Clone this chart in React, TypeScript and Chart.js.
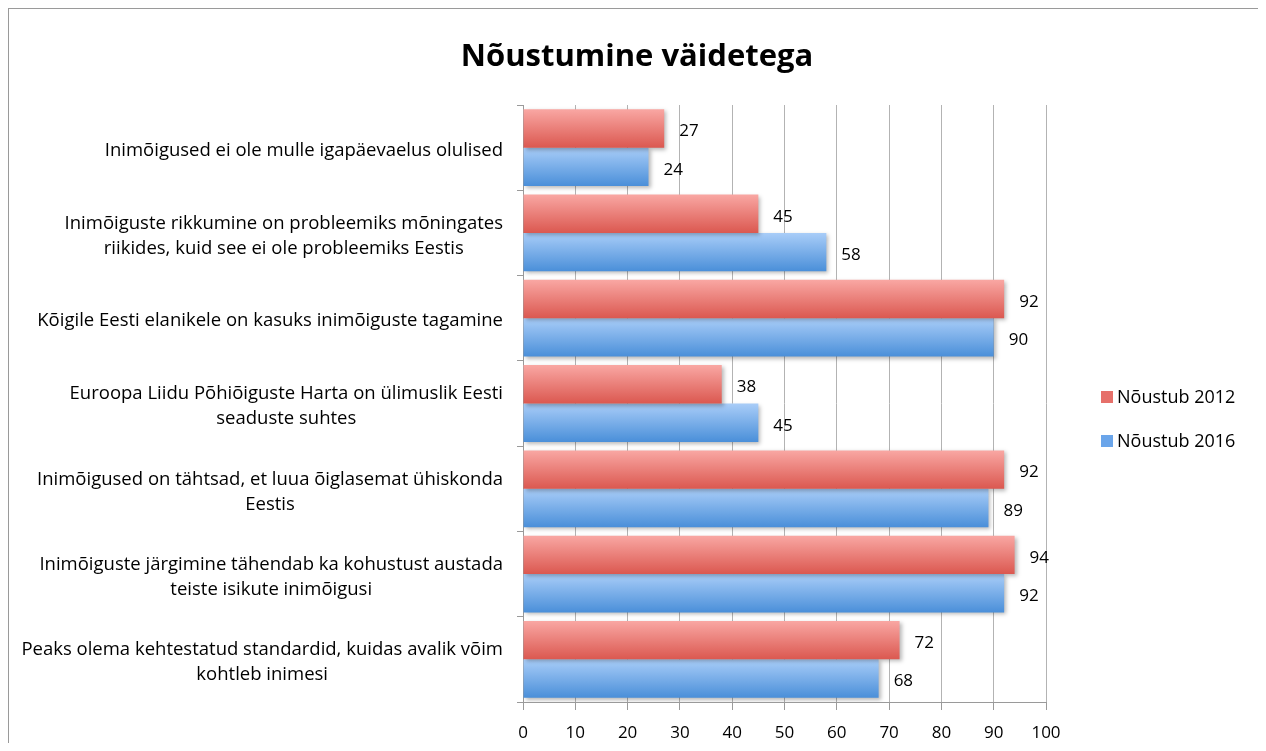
import React, { useEffect, useRef } from "react";
import { Chart, registerables } from "chart.js";

Chart.register(...registerables);

const TITLE = "Nõustumine väidetega";
const categories: string[][] = [
  ["Inimõigused ei ole mulle igapäevaelus olulised"],
  ["Inimõiguste rikkumine on probleemiks mõningates", "riikides, kuid see ei ole probleemiks Eestis"],
  ["Kõigile Eesti elanikele on kasuks inimõiguste tagamine"],
  ["Euroopa Liidu Põhiõiguste Harta on ülimuslik Eesti", "seaduste suhtes"],
  ["Inimõigused on tähtsad, et luua õiglasemat ühiskonda", "Eestis"],
  ["Inimõiguste järgimine tähendab ka kohustust austada", "teiste isikute inimõigusi"],
  ["Peaks olema kehtestatud standardid, kuidas avalik võim", "kohtleb inimesi"],
];
const seriesNames = ["Nõustub 2012", "Nõustub 2016"];
const values2012 = [27, 45, 92, 38, 92, 94, 72];
const values2016 = [24, 58, 90, 45, 89, 92, 68];
const xTicksMin = 0;
const xTicksMax = 100;
const xTicksStep = 10;

const FONT = "'Open Sans', Lato, sans-serif";
const gradStops = [
  ["#f9a7a3", "#db5850"],
  ["#a9cdf8", "#4a8fd9"],
];
const legendColors = ["#e6706a", "#6aa5ea"];

export default function App() {
  const ref = useRef<HTMLCanvasElement | null>(null);
  useEffect(() => {
    let chart: Chart | null = null;
    let cancelled = false;
    const make = () => {
      if (cancelled || !ref.current) return;
      const gradientPlugin = {
        id: "grad",
        beforeDatasetsDraw(c: any) {
          const ctx = c.ctx;
          c.data.datasets.forEach((_: any, di: number) => {
            const meta = c.getDatasetMeta(di);
            meta.data.forEach((el: any) => {
              const g = ctx.createLinearGradient(0, el.y - el.height / 2, 0, el.y + el.height / 2);
              g.addColorStop(0, gradStops[di][0]);
              g.addColorStop(1, gradStops[di][1]);
              el.options = Object.assign(Object.create(Object.getPrototypeOf(el.options)), el.options, { backgroundColor: g });
            });
          });
        },
        beforeDatasetDraw(c: any) {
          const ctx = c.ctx;
          ctx.save();
          ctx.shadowColor = "rgba(0,0,0,0.28)";
          ctx.shadowBlur = 4;
          ctx.shadowOffsetX = 2;
          ctx.shadowOffsetY = 2;
        },
        afterDatasetDraw(c: any) {
          c.ctx.restore();
        },
      };
      const labelsPlugin = {
        id: "vlabels",
        afterDatasetsDraw(c: any) {
          const ctx = c.ctx;
          ctx.save();
          // title
          ctx.font = `bold 31px ${FONT}`;
          ctx.fillStyle = "#000";
          ctx.textAlign = "center";
          ctx.textBaseline = "middle";
          ctx.fillText(TITLE, c.width / 2, 48);

          ctx.font = `17px ${FONT}`;
          ctx.textAlign = "left";
          c.data.datasets.forEach((ds: any, di: number) => {
            const meta = c.getDatasetMeta(di);
            meta.data.forEach((el: any, i: number) => {
              ctx.fillText(String(ds.data[i]), el.x + 15, el.y + 3);
            });
          });
          // legend
          const ca = c.chartArea;
          ctx.font = `18px ${FONT}`;
          seriesNames.forEach((n, i) => {
            const cy = ca.top + 292 + i * 44;
            const x0 = ca.right + 55;
            ctx.fillStyle = legendColors[i];
            ctx.fillRect(x0, cy - 6, 12, 12);
            ctx.fillStyle = "#000";
            ctx.fillText(n, x0 + 16, cy + 1);
          });
          // y category labels: block right aligned, lines centered
          const ys = c.scales.y;
          ctx.font = `18.5px ${FONT}`;
          ctx.textAlign = "center";
          categories.forEach((lines, i) => {
            const cy = ys.getPixelForValue(i);
            const w = Math.max(...lines.map((l) => ctx.measureText(l).width));
            const cx = ca.left - 20 - w / 2;
            const lh = 25;
            lines.forEach((l, k) => {
              const y = cy + (k - (lines.length - 1) / 2) * lh;
              ctx.fillText(l, cx, y + 3);
            });
          });
          ctx.restore();
        },
      };
      chart = new Chart(ref.current, {
        type: "bar",
        data: {
          labels: categories.map((c) => c.join(" ")),
          datasets: [
            { label: seriesNames[0], data: values2012, backgroundColor: legendColors[0], borderWidth: 0, categoryPercentage: 0.9, barPercentage: 1.0 },
            { label: seriesNames[1], data: values2016, backgroundColor: legendColors[1], borderWidth: 0, categoryPercentage: 0.9, barPercentage: 1.0 },
          ],
        },
        options: {
          indexAxis: "y",
          animation: false,
          responsive: false,
          layout: { padding: { left: 0, right: 219, top: 96, bottom: 0 } },
          plugins: {
            legend: { display: false },
            tooltip: { enabled: false },
            title: { display: false },
          },
          scales: {
            x: {
              min: xTicksMin,
              max: xTicksMax,
              ticks: { stepSize: xTicksStep, color: "#000", font: { family: FONT, size: 17 }, padding: 13 },
              grid: { color: "#b3b3b3", lineWidth: 1, tickLength: 8, tickColor: "#9a9a9a" },
              border: { color: "#9a9a9a" },
              afterFit(s: any) {
                s.height = 41;
              },
            },
            y: {
              ticks: { color: "rgba(0,0,0,0)", font: { family: FONT, size: 17 } },
              grid: { display: true, drawOnChartArea: false, tickLength: 6, color: "#9a9a9a", offset: true },
              border: { color: "#9a9a9a" },
              afterFit(s: any) {
                s.width = 514;
              },
            },
          },
        },
        plugins: [gradientPlugin, labelsPlugin],
      } as any);
    };
    const fonts = (document as any).fonts;
    if (fonts && fonts.load) {
      Promise.all([fonts.load(`17px 'Open Sans'`), fonts.load(`bold 31px 'Open Sans'`)]).then(make, make);
    } else make();
    return () => {
      cancelled = true;
      if (chart) chart.destroy();
    };
  }, []);
  return (
    <div
      style={{
        width: 1258,
        height: 735,
        boxSizing: "border-box",
        borderTop: "1px solid #9a9a9a",
        borderLeft: "1px solid #9a9a9a",
        borderRight: "1px solid #9a9a9a",
        overflow: "hidden",
      }}
    >
      <canvas ref={ref} width={1256} height={734} style={{ display: "block" }} />
    </div>
  );
}
